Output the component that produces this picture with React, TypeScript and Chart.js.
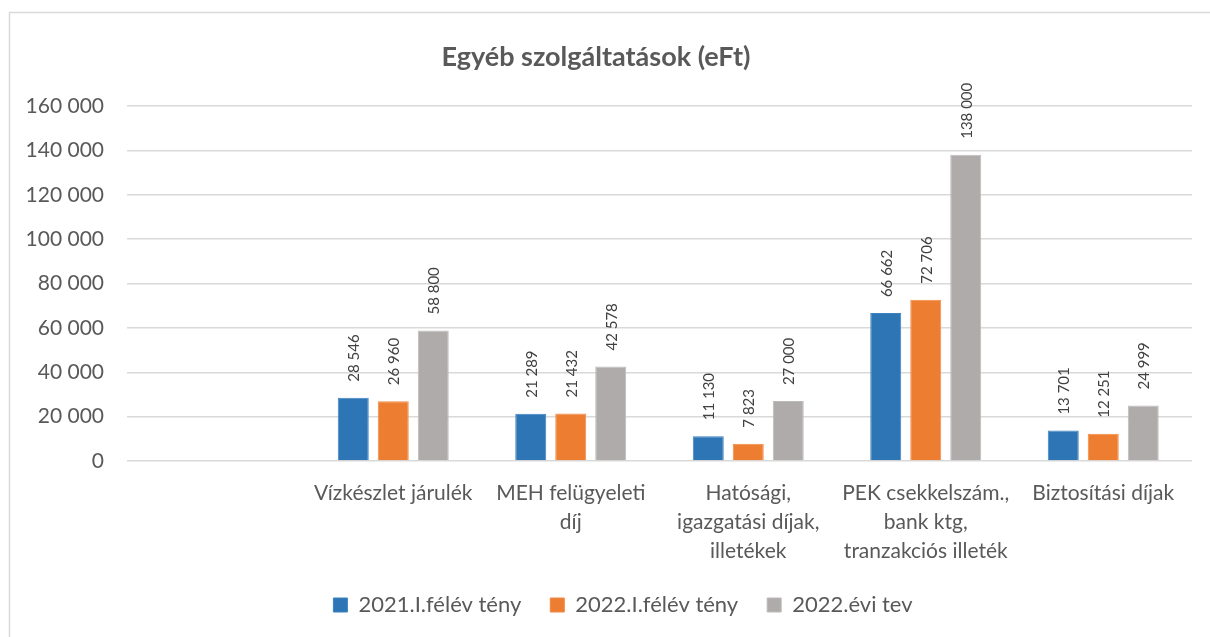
import React, { useEffect, useRef } from "react";
import { Chart, registerables } from "chart.js";

Chart.register(...registerables);

const categories: (string | string[])[] = [
  "",
  "Vízkészlet járulék",
  ["MEH felügyeleti", "díj"],
  ["Hatósági,", "igazgatási díjak,", "illetékek"],
  ["PEK csekkelszám.,", "bank ktg,", "tranzakciós illeték"],
  "Biztosítási díjak",
];

const seriesNames = ["2021.I.félév tény", "2022.I.félév tény", "2022.évi tev"];

const values2021H1: (number | null)[] = [null, 28546, 21289, 11130, 66662, 13701];
const values2022H1: (number | null)[] = [null, 26960, 21432, 7823, 72706, 12251];
const values2022Plan: (number | null)[] = [null, 58800, 42578, 27000, 138000, 24999];

const yTicks = [0, 20000, 40000, 60000, 80000, 100000, 120000, 140000, 160000];

const titleText = "Egyéb szolgáltatások (eFt)";

const fmt = (v: number) => String(Math.round(v)).replace(/\B(?=(\d{3})+(?!\d))/g, " ");

const FONT = "Lato, 'Noto Sans', sans-serif";
const TEXT = "#595959";

const labelPlugin = {
  id: "rotLabels",
  afterDatasetsDraw(chart: any) {
    const ctx = chart.ctx;
    ctx.save();
    ctx.fillStyle = "#404040";
    ctx.font = `15px ${FONT}`;
    ctx.textAlign = "left";
    ctx.textBaseline = "middle";
    chart.data.datasets.forEach((ds: any, i: number) => {
      const meta = chart.getDatasetMeta(i);
      meta.data.forEach((el: any, j: number) => {
        const v = ds.data[j];
        if (v == null) return;
        ctx.save();
        ctx.translate(el.x + 1, el.y - 16);
        ctx.rotate(-Math.PI / 2);
        ctx.fillText(fmt(v), 0, 0);
        ctx.restore();
      });
    });
    ctx.restore();
  },
};

const framePlugin = {
  id: "frame",
  beforeDraw(chart: any) {
    const ctx = chart.ctx;
    ctx.save();
    ctx.fillStyle = "#ffffff";
    ctx.fillRect(0, 0, chart.width, chart.height);
    ctx.strokeStyle = "#d9d9d9";
    ctx.lineWidth = 1.5;
    ctx.strokeRect(9.5, 12.5, 1400, 800);
    ctx.restore();
  },
};

// the original chart frame extends past the right edge, so its legend sits right of canvas center
const legendShiftPlugin = {
  id: "legendShift",
  afterLayout(chart: any) {
    const lg = chart.legend;
    if (lg) {
      lg.left += 27;
      lg.right += 27;
    }
  },
};

export default function App() {
  const ref = useRef<HTMLCanvasElement>(null);
  useEffect(() => {
    if (!ref.current) return;
    const chart = new Chart(ref.current, {
      type: "bar",
      data: {
        labels: categories,
        datasets: [
          {
            label: seriesNames[0],
            data: values2021H1,
            backgroundColor: "#2E75B6",
            borderColor: "#3d82c0",
            borderWidth: 1,
          },
          {
            label: seriesNames[1],
            data: values2022H1,
            backgroundColor: "#ED7D31",
            borderColor: "#f08a45",
            borderWidth: 1,
          },
          {
            label: seriesNames[2],
            data: values2022Plan,
            backgroundColor: "#AFABAB",
            borderColor: "#bdbaba",
            borderWidth: 1,
          },
        ],
      },
      options: {
        responsive: false,
        animation: false,
        maintainAspectRatio: false,
        datasets: { bar: { categoryPercentage: 0.676, barPercentage: 0.775 } },
        layout: { padding: { top: 20, left: 0, right: 18, bottom: 11 } },
        plugins: {
          title: {
            display: true,
            text: titleText,
            color: TEXT,
            font: { family: FONT, size: 27, weight: "bold", lineHeight: 1.2 },
            padding: { top: 20.8, bottom: 32.8 },
          },
          legend: {
            display: true,
            position: "bottom",
            labels: {
              color: TEXT,
              font: { family: FONT, size: 22 },
              boxWidth: 14,
              boxHeight: 14,
              padding: 29,
            },
          },
          tooltip: { enabled: false },
        },
        scales: {
          x: {
            grid: { display: false, drawTicks: false },
            border: { display: false },
            ticks: {
              color: TEXT,
              font: { family: FONT, size: 21, lineHeight: 1.38 },
              padding: 17.5,
              maxRotation: 0,
              autoSkip: false,
            },
            afterFit(scale: any) {
              scale.height = 104;
            },
          },
          y: {
            min: 0,
            max: 160000,
            afterBuildTicks(scale: any) {
              scale.ticks = yTicks.map((v) => ({ value: v }));
            },
            grid: { color: "#d9d9d9", lineWidth: 1.5, drawTicks: false },
            border: { display: false },
            ticks: {
              color: TEXT,
              font: { family: FONT, size: 21 },
              padding: 23,
              callback: (v: any) => fmt(Number(v)),
            },
            afterFit(scale: any) {
              scale.width = 127;
            },
          },
        },
      },
      plugins: [framePlugin, labelPlugin, legendShiftPlugin],
    });
    return () => chart.destroy();
  }, []);
  return (
    <div style={{ position: "fixed", left: 0, top: 0, width: 1210, height: 637, background: "#fff" }}>
      <canvas ref={ref} width={1210} height={637} style={{ display: "block" }} />
    </div>
  );
}
